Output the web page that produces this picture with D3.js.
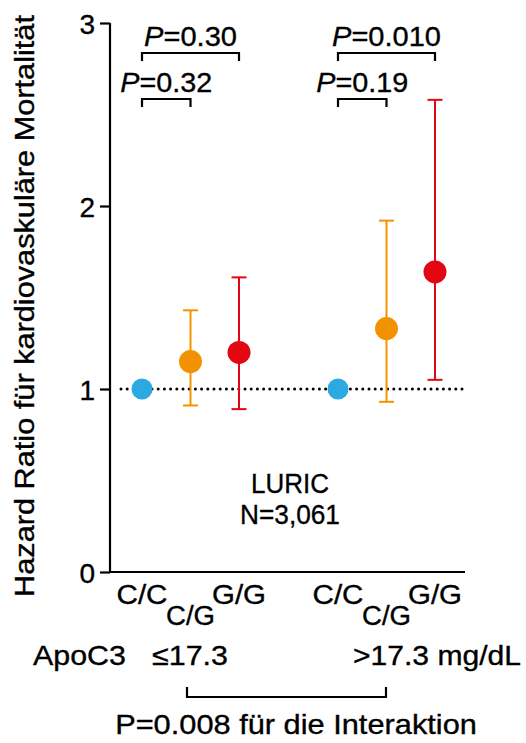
<!DOCTYPE html>
<html><head><meta charset="utf-8">
<script src="https://cdn.jsdelivr.net/npm/d3@7"></script>
<style>body{margin:0;background:#fff}svg{display:block}text{font-family:"Liberation Sans",Arial,sans-serif;fill:#000;stroke:#000;stroke-width:0.35}</style>
</head><body><svg id="c" width="526" height="743"></svg>
<script>
const groups = ["≤17.3", ">17.3"];
const genotypes = ["C/C", "C/G", "G/G"];
const hr = [[1.00, 1.15, 1.20], [1.00, 1.33, 1.64]];
const lower = [[null, 0.91, 0.89], [null, 0.93, 1.05]];
const upper = [[null, 1.43, 1.61], [null, 1.92, 2.58]];
const colors = ["#2ca9e1", "#f39200", "#e30613"];
const yTicks = [0, 1, 2, 3];
const pTests = [
  {group: 0, from: "C/C", to: "C/G", p: "0.32", level: 0},
  {group: 0, from: "C/C", to: "G/G", p: "0.30", level: 1},
  {group: 1, from: "C/C", to: "C/G", p: "0.19", level: 0},
  {group: 1, from: "C/C", to: "G/G", p: "0.010", level: 1}
];
const cohort = "LURIC", nText = "N=3,061";
const yLabel = "Hazard Ratio für kardiovaskuläre Mortalität";
const interaction = "P=0.008 für die Interaktion";

const svg = d3.select("#c");
const FS = 28;
const y = d3.scaleLinear().domain([0, 3]).range([572, 23]);
const xg = d3.scalePoint().domain(groups).range([142, 338]);
const xi = d3.scalePoint().domain(genotypes).range([0, 97]);
const X = (g, t) => xg(groups[g]) + xi(t);

// place text at (x,y) with given anchor and stretch horizontally to target width
function fit(t, x, yy, len, rot) {
  t.attr("x", 0).attr("y", 0);
  const w = t.node().getComputedTextLength();
  const k = len ? len / w : 1;
  t.attr("transform", `translate(${x},${yy})${rot ? " rotate(" + rot + ")" : ""} scale(${k},1)`);
  return t;
}
function txt(x, yy, s, len, anchor) {
  const t = svg.append("text").attr("font-size", FS).attr("text-anchor", anchor || "start").text(s);
  return fit(t, x, yy, len);
}

// axes
const yAxis = d3.axisLeft(y).tickValues(yTicks).tickFormat(d3.format("d")).tickSize(10).tickPadding(5);
const ga = svg.append("g").attr("transform", "translate(110,0)").call(yAxis);
ga.select(".domain").attr("d", `M0,${y(3)}V${y(0)}`).attr("stroke", "#000").attr("stroke-width", 2.2);
ga.selectAll(".tick line").attr("stroke", "#000").attr("stroke-width", 2.2);
ga.selectAll(".tick text").attr("font-size", FS).attr("font-family", "Liberation Sans, Arial").attr("fill", "#000").attr("dy", "0.36em");
svg.append("line").attr("x1", 109).attr("x2", 465).attr("y1", y(0)).attr("y2", y(0)).attr("stroke", "#000").attr("stroke-width", 2.2);

// reference line at HR=1
svg.append("line").attr("x1", 121).attr("x2", 463).attr("y1", y(1)).attr("y2", y(1))
  .attr("stroke", "#000").attr("stroke-width", 3).attr("stroke-linecap", "round").attr("stroke-dasharray", "0 6.2");

// error bars & points
groups.forEach((g, gi) => {
  genotypes.forEach((t, ti) => {
    const cx = X(gi, t);
    if (lower[gi][ti] != null) {
      const eg = svg.append("g").attr("stroke", colors[ti]).attr("stroke-width", 2);
      eg.append("line").attr("x1", cx).attr("x2", cx).attr("y1", y(lower[gi][ti])).attr("y2", y(upper[gi][ti]));
      [lower[gi][ti], upper[gi][ti]].forEach(v => eg.append("line").attr("x1", cx - 7.5).attr("x2", cx + 7.5).attr("y1", y(v)).attr("y2", y(v)));
    }
    svg.append("circle").attr("cx", cx).attr("cy", y(hr[gi][ti])).attr("r", ti === 0 ? 10.5 : 11.5).attr("fill", colors[ti]);
  });
});

// p-value brackets
const lvlY = [99, 53];
const pLen = {"0.32": 92, "0.30": 93, "0.19": 92, "0.010": 109};
pTests.forEach(d => {
  const x1 = X(d.group, d.from), x2 = X(d.group, d.to), by = lvlY[d.level];
  svg.append("path").attr("d", `M${x1},${by + 8}V${by}H${x2}V${by + 8}`).attr("fill", "none").attr("stroke", "#000").attr("stroke-width", 2.2);
  const t = svg.append("text").attr("text-anchor", "middle").attr("font-size", FS);
  t.append("tspan").attr("font-style", "italic").text("P");
  t.append("tspan").text("=" + d.p);
  fit(t, (x1 + x2) / 2, by - 7, pLen[d.p]);
});

// x labels
const gLen = {"C/C": 51, "C/G": 49, "G/G": 54};
groups.forEach((g, gi) => {
  genotypes.forEach((t, ti) => {
    txt(X(gi, t), ti === 1 ? 625 : 604, t, gLen[t], "middle");
  });
});

// cohort text
txt(290, 493, cohort, 78, "middle");
txt(290, 524, nText, 100, "middle");

// y label
const yl = svg.append("text").attr("text-anchor", "middle").attr("font-size", 27).text(yLabel);
fit(yl, 34, 306, 582, -90);

// ApoC3 row
txt(33, 665, "ApoC3", 93);
txt(152, 665, groups[0], 76);
txt(353, 665, groups[1] + " mg/dL", 168);

// interaction bracket
svg.append("path").attr("d", `M187,687V697H386V687`).attr("fill", "none").attr("stroke", "#000").attr("stroke-width", 2.2);
txt(296, 734, interaction, 362, "middle");
</script></body></html>
